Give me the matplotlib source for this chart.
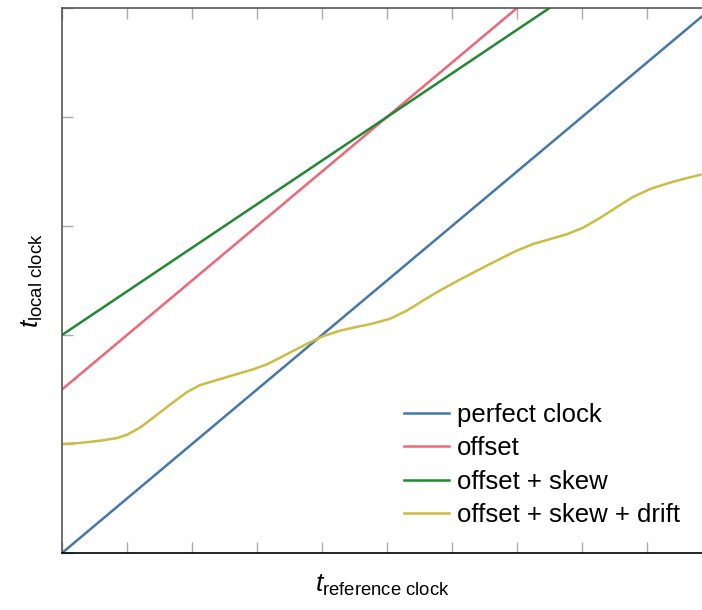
import numpy as np
import matplotlib
matplotlib.use("Agg")
import matplotlib.pyplot as plt

plt.rcParams["font.family"] = ["Liberation Sans", "DejaVu Sans"]
plt.rcParams["mathtext.fontset"] = "custom"
plt.rcParams["mathtext.rm"] = "Liberation Sans"
plt.rcParams["mathtext.it"] = "Liberation Sans:italic"

# reference time axis
t_ref = [0.0, 9.846]

# ideal clocks: y = offset + rate * t
perfect_offset, perfect_rate = 0.0, 1.0
offset_offset, offset_rate = 3.0, 1.0
skew_offset, skew_rate = 4.0, 0.8

# drifting clock, sampled along its path
drift_t = [0.0, 0.28, 0.58, 0.85, 1.0, 1.2, 1.4, 1.66, 1.92, 2.12, 2.43,
           2.74, 2.94, 3.15, 3.35, 3.51, 3.66, 3.77, 4.02, 4.28, 4.54, 4.78,
           5.05, 5.31, 5.55, 5.82, 6.08, 6.32, 6.58, 7.0, 7.25, 7.51, 7.77,
           8.02, 8.28, 8.54, 8.78, 9.05, 9.31, 9.55, 9.82]
drift_y = [2.00, 2.02, 2.06, 2.11, 2.17, 2.30, 2.48, 2.72, 2.95, 3.08, 3.19,
           3.30, 3.37, 3.46, 3.58, 3.68, 3.77, 3.84, 3.98, 4.08, 4.15, 4.21,
           4.30, 4.45, 4.63, 4.82, 4.99, 5.14, 5.30, 5.55, 5.67, 5.76, 5.85,
           5.97, 6.15, 6.35, 6.53, 6.68, 6.78, 6.86, 6.94]

labels = ["perfect clock", "offset", "offset + skew", "offset + skew + drift"]
colors = ["#4477AA", "#EE6677", "#228833", "#CCBB44"]

W, H = 702, 610
fig = plt.figure(figsize=(W / 100, H / 100), dpi=100)
ax = fig.add_axes([62 / W, 57 / H, 640 / W, 545 / H])

lw = 1.8
t = np.array(t_ref)
ax.plot(t, perfect_offset + perfect_rate * t, color=colors[0], lw=lw, label=labels[0])
ax.plot(t, offset_offset + offset_rate * t, color=colors[1], lw=lw, label=labels[1])
ax.plot(t, skew_offset + skew_rate * t, color=colors[2], lw=lw, label=labels[2])
ax.plot(drift_t, drift_y, color=colors[3], lw=lw, label=labels[3],
        solid_joinstyle="round")

ax.set_xlim(0, 9.846)
ax.set_ylim(0, 10)
ax.set_xticks(np.arange(0, 10))
ax.set_yticks(np.arange(0, 11, 2))
ax.tick_params(which="both", direction="in", length=8, width=1, color="#aaaaaa",
               top=True, labelbottom=False, labelleft=False)

ax.spines["right"].set_visible(False)
ax.spines["left"].set_color("#555555")
ax.spines["top"].set_color("#555555")
ax.spines["bottom"].set_color("black")
for s in ax.spines.values():
    s.set_linewidth(1.2)

ax.set_xlabel(r"$t_{\mathrm{reference\ clock}}$", fontsize=19, labelpad=14)
ax.set_ylabel(r"$t_{\mathrm{local\ clock}}$", fontsize=19, labelpad=12)

ax.legend(loc="lower right", frameon=False, fontsize=18.5, handlelength=1.75,
          handletextpad=0.3, labelspacing=0.36, borderaxespad=0.45,
          bbox_to_anchor=(1.0, 0.008))

fig.savefig("out.png", dpi=100)
